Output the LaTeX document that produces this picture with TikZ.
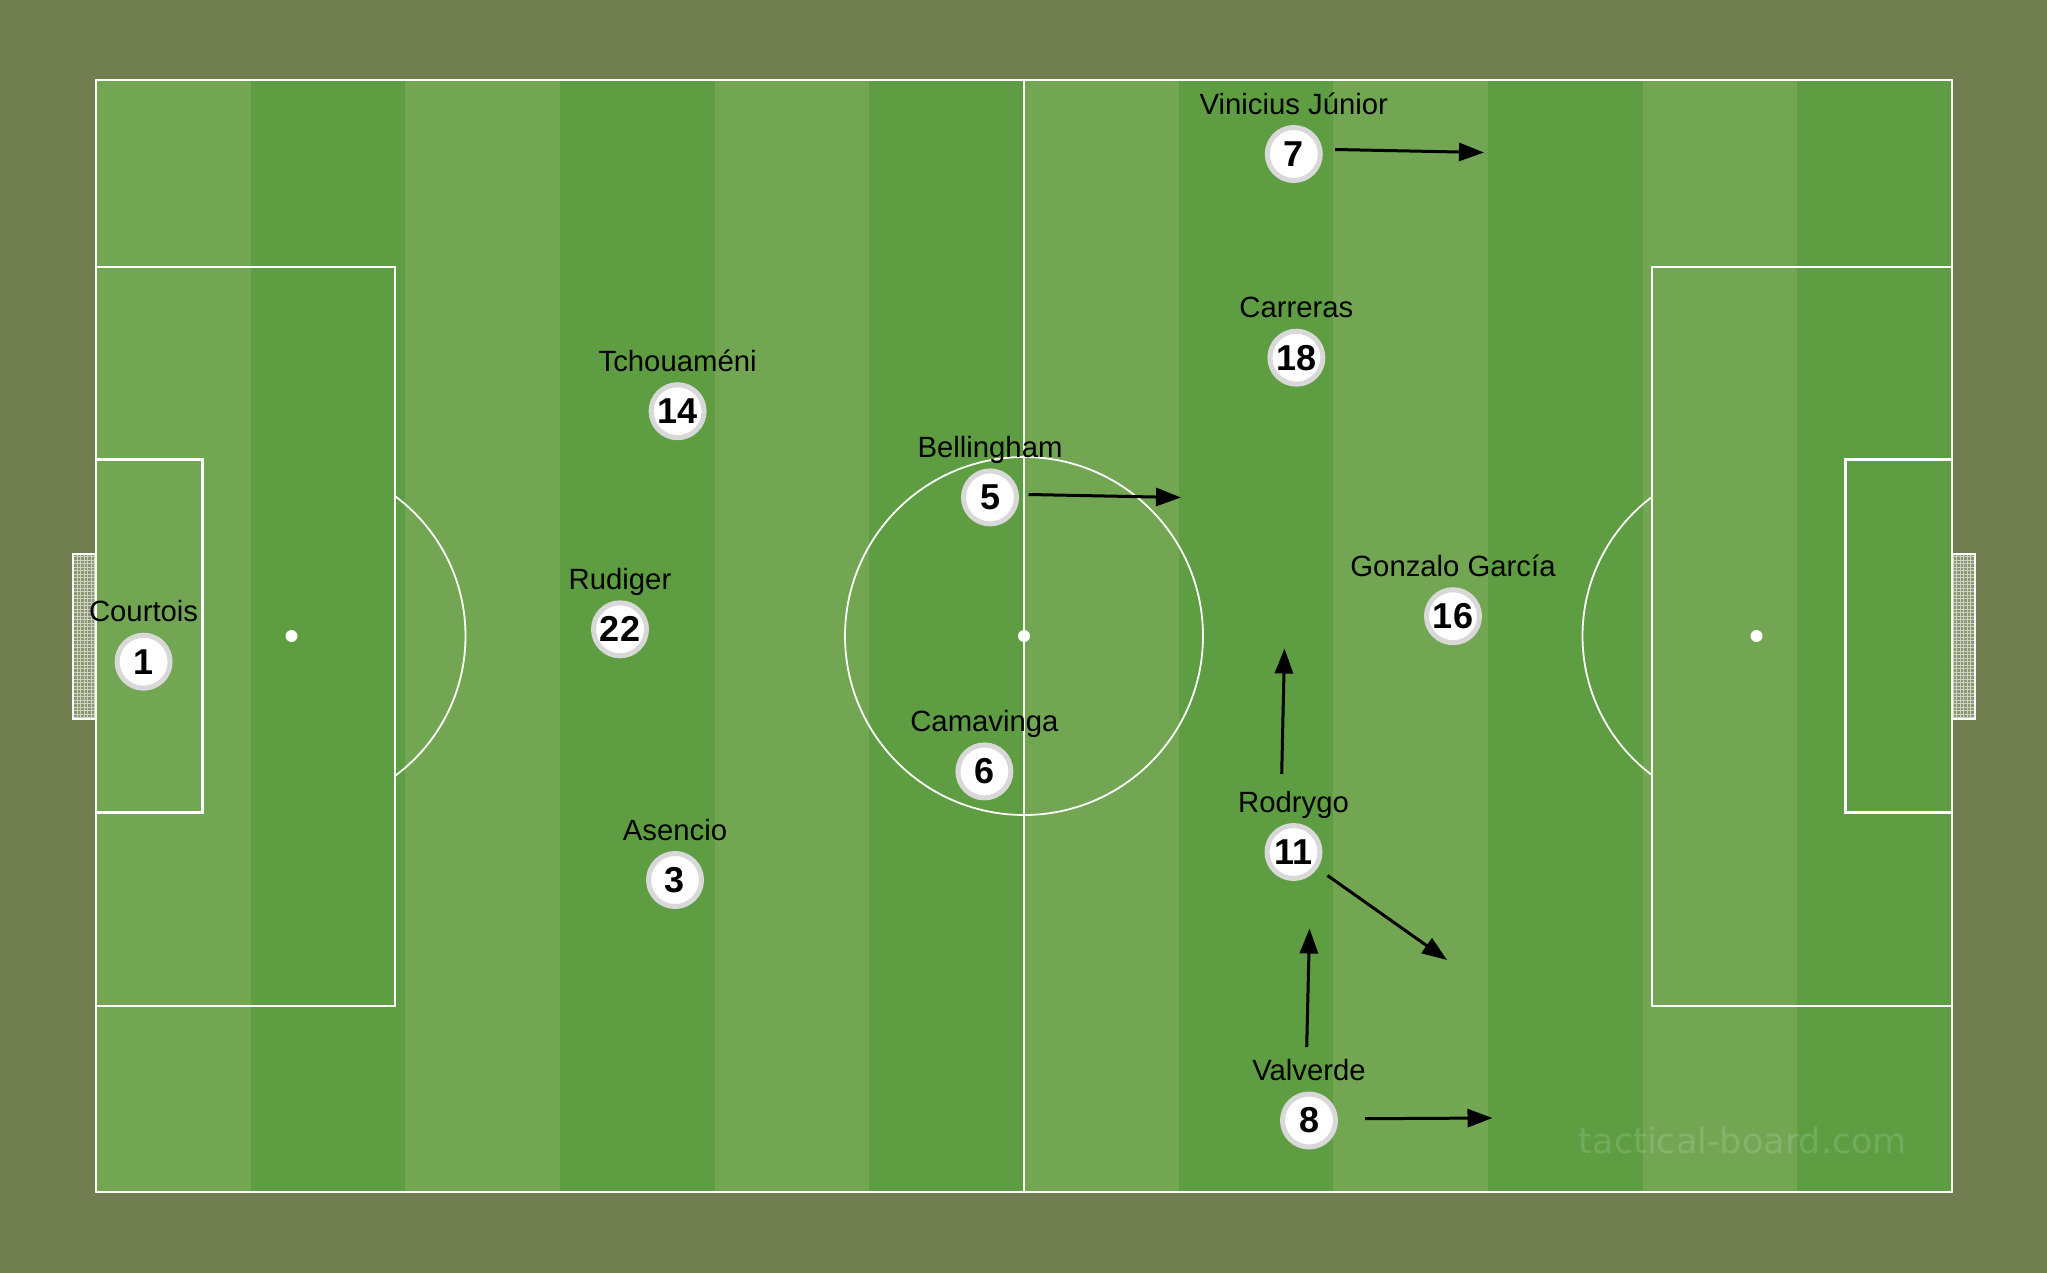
\documentclass[tikz,border=0pt]{standalone}
\usepackage{fontspec}
\setmainfont{Liberation Sans}
\newfontfamily\wmfont{DejaVu Sans}
\usetikzlibrary{arrows.meta}
\definecolor{bgolive}{RGB}{111,125,79}
\definecolor{lightgrass}{RGB}{115,166,83}
\definecolor{darkgrass}{RGB}{94,157,66}
\definecolor{ringgray}{RGB}{216,216,216}
\definecolor{netfill}{RGB}{140,150,115}
\definecolor{netline}{RGB}{205,210,195}
\begin{document}
\begin{tikzpicture}[x=1pt,y=-1pt,
  pline/.style={draw=white,line width=2.5pt},
  thinline/.style={draw=white,line width=1.8pt},
  token/.style={circle,fill=white,draw=ringgray,line width=5pt,minimum size=53pt,inner sep=0pt,
    font=\fontsize{36}{36}\selectfont\bfseries},
  plabel/.style={anchor=base,font=\fontsize{29.3}{29.3}\selectfont,text=black,inner sep=0pt},
  run/.style={draw=black,line width=3pt,-{Triangle[length=25pt,width=18pt]}},
]
\useasboundingbox (0,0) rectangle (2047,1273);
\fill[bgolive] (0,0) rectangle (2047,1273);
% grass
\fill[lightgrass] (96,80) rectangle (1952,1192);
\foreach \i in {1,3,...,11}
  \fill[darkgrass] ({96+154.6667*\i},80) rectangle ({96+154.6667*(\i+1)},1192);
% goals
\foreach \gx in {73,1952}{
  \fill[netfill] (\gx,554) rectangle (\gx+23,719);
  \begin{scope}
    \clip (\gx,554) rectangle (\gx+23,719);
    \draw[netline,line width=0.6pt,step=3.5pt] (\gx,554) grid (\gx+23,719);
  \end{scope}
}
\draw[white,line width=1.5pt] (96,554) -- (73,554) -- (73,719) -- (96,719);
\draw[white,line width=1.5pt] (1952,554) -- (1975,554) -- (1975,719) -- (1952,719);
% lines
\draw[pline] (96,80) rectangle (1952,1192);
\draw[pline] (1024,80) -- (1024,1192);
\draw[thinline] (1024,636) circle[radius=179];
\fill[white] (1024,636) circle[radius=6];
\draw[pline] (96,267) rectangle (395,1006);
\draw[pline] (96,459.5) rectangle (202.7,812.5);
\fill[white] (291.5,636) circle[radius=6];
\begin{scope}
  \clip (396,0) rectangle (1024,1273);
  \draw[thinline] (291.5,636) circle[radius=174];
\end{scope}
\draw[pline] (1652,267) rectangle (1952,1006);
\draw[pline] (1845.3,459.5) rectangle (1952,812.5);
\fill[white] (1756.5,636) circle[radius=6];
\begin{scope}
  \clip (1024,0) rectangle (1651,1273);
  \draw[thinline] (1756.5,636) circle[radius=174];
\end{scope}
% watermark
\node[anchor=base east,inner sep=0pt,text=white,text opacity=0.14,
  font=\wmfont\fontsize{35}{35}\selectfont] (wm) at (1907,1153) {tactical-board.com};
% players
\node[token] (p1) at (143.6,661.7) {1};
\node[plabel] (l1) at (143.6,621.7) {Courtois};
\node[token] (p14) at (677.6,411.2) {14};
\node[plabel] (l14) at (677.6,371.5) {Tchouaméni};
\node[token] (p22) at (620,629.3) {22};
\node[plabel] (l22) at (620,589.3) {Rudiger};
\node[token] (p3) at (675,880) {3};
\node[plabel] (l3) at (675,840) {Asencio};
\node[token] (p5) at (990,497.4) {5};
\node[plabel] (l5) at (990,457.4) {Bellingham};
\node[token] (p6) at (984.4,771.4) {6};
\node[plabel] (l6) at (984.4,731.4) {Camavinga};
\node[token] (p7) at (1293.8,154) {7};
\node[plabel] (l7) at (1293.8,114.5) {Vinicius Júnior};
\node[token] (p18) at (1296.4,357.7) {18};
\node[plabel] (l18) at (1296.4,317.7) {Carreras};
\node[token] (p16) at (1453,616.2) {16};
\node[plabel] (l16) at (1453,576.2) {Gonzalo García};
\node[token] (p11) at (1293.5,852) {11};
\node[plabel] (l11) at (1293.5,812) {Rodrygo};
\node[token] (p8) at (1309,1120.5) {8};
\node[plabel] (l8) at (1309,1080.5) {Valverde};
% runs
\coordinate (r7a) at (1335,149.5);   \coordinate (r7b) at (1484,152.5);
\coordinate (r5a) at (1028.5,494.5); \coordinate (r5b) at (1181,497.5);
\coordinate (r11ua) at (1281.7,774); \coordinate (r11ub) at (1284.5,648.5);
\coordinate (r11da) at (1327.5,875.5); \coordinate (r11db) at (1447,960);
\coordinate (r8ua) at (1306.7,1047); \coordinate (r8ub) at (1309.5,928.5);
\coordinate (r8ra) at (1365,1118.7); \coordinate (r8rb) at (1492.5,1118);
\draw[run] (r7a) -- (r7b);
\draw[run] (r5a) -- (r5b);
\draw[run] (r11ua) -- (r11ub);
\draw[run] (r11da) -- (r11db);
\draw[run] (r8ua) -- (r8ub);
\draw[run] (r8ra) -- (r8rb);
\end{tikzpicture}
\end{document}
